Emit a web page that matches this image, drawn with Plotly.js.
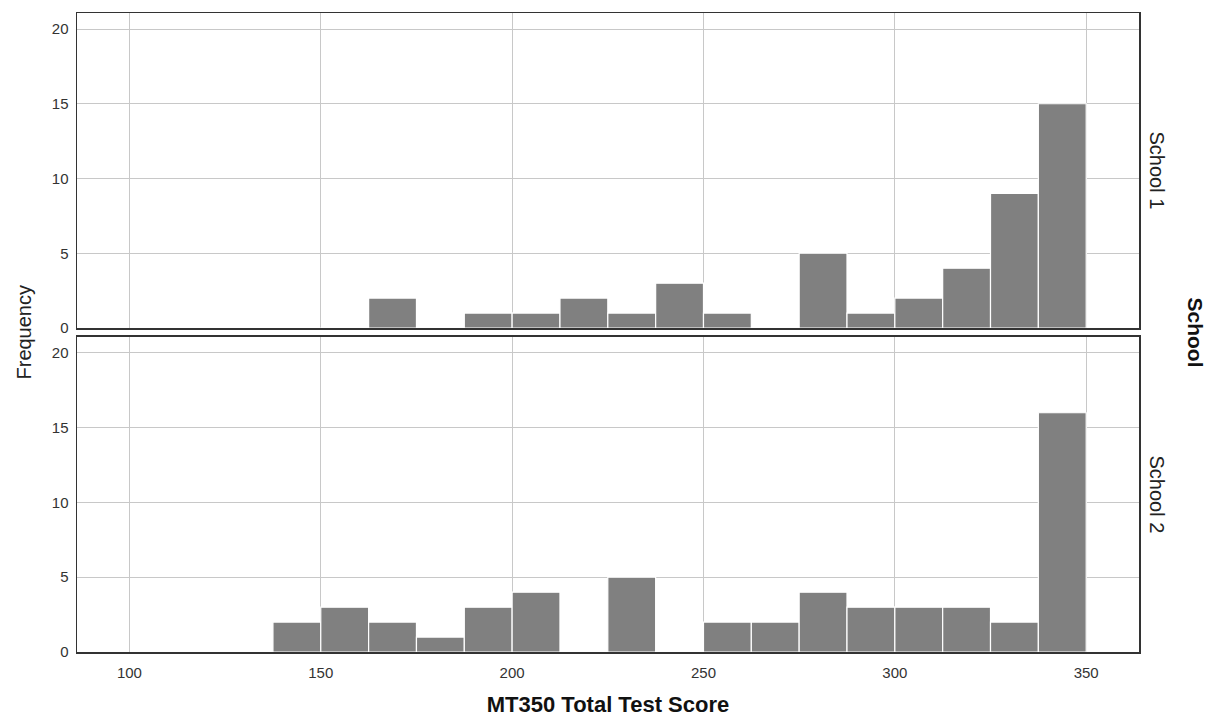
<!DOCTYPE html>
<html>
<head>
<meta charset="utf-8">
<script src="https://cdn.plot.ly/plotly-3.0.1.min.js"></script>
<style>html,body{margin:0;padding:0;background:#fff;}#chart{width:1209px;height:717px;}</style>
</head>
<body>
<div id="chart"></div>
<script>
// Bin centers (bin width 12.5)
const binCenters = [143.75, 156.25, 168.75, 181.25, 193.75, 206.25, 218.75, 231.25, 243.75, 256.25, 268.75, 281.25, 293.75, 306.25, 318.75, 331.25, 343.75];
const school1Counts = [0, 0, 2, 0, 1, 1, 2, 1, 3, 1, 0, 5, 1, 2, 4, 9, 15];
const school2Counts = [2, 3, 2, 1, 3, 4, 0, 5, 0, 2, 2, 4, 3, 3, 3, 2, 16];
const panelLabels = ["School 1", "School 2"];
const xTicks = [100, 150, 200, 250, 300, 350];
const yTicks = [0, 5, 10, 15, 20];

const barStyle = {color: '#808080', line: {color: '#ffffff', width: 1.2}};
const traces = [
  {type: 'bar', x: binCenters, y: school1Counts, width: 12.5, marker: barStyle, xaxis: 'x', yaxis: 'y', hoverinfo: 'x+y'},
  {type: 'bar', x: binCenters, y: school2Counts, width: 12.5, marker: barStyle, xaxis: 'x2', yaxis: 'y2', hoverinfo: 'x+y'}
];

const font = {family: 'Liberation Sans, Arial, sans-serif', color: '#222'};
const xBase = {
  range: [86.3, 363.8], tickvals: xTicks, showgrid: true, gridcolor: '#c8c8c8', gridwidth: 1,
  zeroline: false, showline: true, linecolor: '#333', linewidth: 1.5, mirror: true,
  ticks: '', ticklabelstandoff: 6, tickfont: {size: 15, color: '#333'}
};
const yBase = {
  range: [0, 21.07], tickvals: yTicks, showgrid: true, gridcolor: '#c8c8c8', gridwidth: 1,
  zeroline: false, showline: true, linecolor: '#333', linewidth: 1.5, mirror: true,
  ticks: '', ticklabelstandoff: 4, tickfont: {size: 15, color: '#333'}
};

const layout = {
  width: 1209, height: 717,
  margin: {l: 77, r: 70, t: 13, b: 65},
  paper_bgcolor: '#ffffff', plot_bgcolor: '#ffffff',
  showlegend: false, bargap: 0,
  font: font,
  xaxis: Object.assign({}, xBase, {anchor: 'y', showticklabels: false}),
  yaxis: Object.assign({}, yBase, {domain: [0.507, 1], anchor: 'x'}),
  xaxis2: Object.assign({}, xBase, {anchor: 'y2', matches: 'x',
    title: {text: '<b>MT350 Total Test Score</b>', font: {size: 22, color: '#111'}, standoff: 23}}),
  yaxis2: Object.assign({}, yBase, {domain: [0, 0.493], anchor: 'x2'}),
  annotations: [
    {text: panelLabels[0], xref: 'paper', yref: 'paper', x: 1.0, xanchor: 'center', xshift: 18, y: 0.7535, yanchor: 'middle', textangle: 90, showarrow: false, font: {size: 20, color: '#222'}},
    {text: panelLabels[1], xref: 'paper', yref: 'paper', x: 1.0, xanchor: 'center', xshift: 18, y: 0.2465, yanchor: 'middle', textangle: 90, showarrow: false, font: {size: 20, color: '#222'}},
    {text: '<b>School</b>', xref: 'paper', yref: 'paper', x: 1.0, xanchor: 'center', xshift: 56, y: 0.5, yanchor: 'middle', textangle: 90, showarrow: false, font: {size: 21, color: '#111'}},
    {text: 'Frequency', xref: 'paper', yref: 'paper', x: 0, xanchor: 'center', xshift: -54, y: 0.5, yanchor: 'middle', textangle: -90, showarrow: false, font: {size: 20, color: '#222'}}
  ]
};

Plotly.newPlot('chart', traces, layout, {displayModeBar: false, staticPlot: true});
</script>
</body>
</html>
